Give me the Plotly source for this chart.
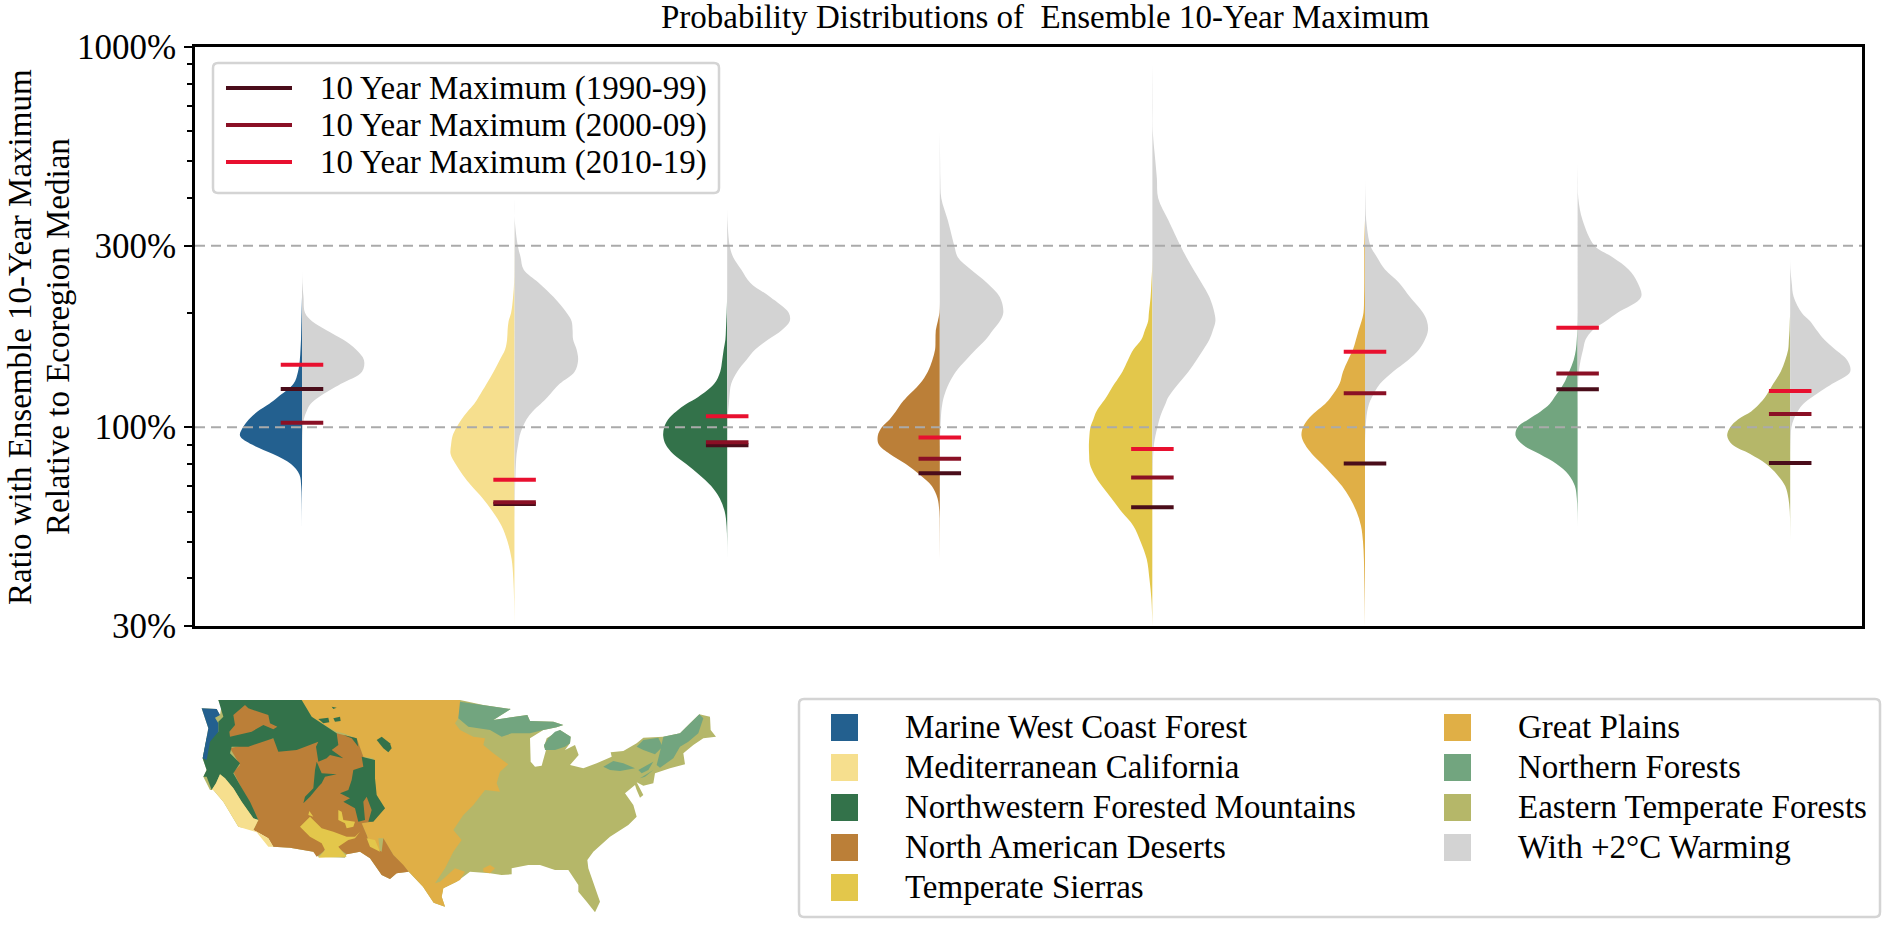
import plotly.graph_objects as go

W, H = 1902, 927
FONT = "Liberation Serif"

# plot area and map area in page pixels
PLOT_LEFT, PLOT_RIGHT, PLOT_TOP, PLOT_BOTTOM = 195, 1862, 47, 626
MAP_LEFT, MAP_RIGHT, MAP_TOP, MAP_BOTTOM = 190, 740, 695, 927

REGIONS = ["Marine West Coast Forest", "Mediterranean California", "Northwestern Forested Mountains",
           "North American Deserts", "Temperate Sierras", "Great Plains", "Northern Forests",
           "Eastern Temperate Forests"]
COLORS = ["#23608f", "#f6df8e", "#33724a", "#bb7f38", "#e3c74b", "#e0af46", "#72a57f", "#b5b769"]
WARM_COLOR = "#d3d3d3"
DECADE_COLORS = ["#4a0d1a", "#8a1025", "#e8102f"]
DECADE_LABELS = ["10 Year Maximum (1990-99)", "10 Year Maximum (2000-09)", "10 Year Maximum (2010-19)"]

TICK_VALS = [30, 100, 300, 1000]
TICK_TEXT = ["30%", "100%", "300%", "1000%"]
MINOR_TICKS = [40, 50, 60, 70, 80, 90, 200, 400, 500, 600, 700, 800, 900]
GRID_VALS = [100, 300]

RATIO_GRID = [900, 800, 700, 600, 500, 450, 400, 350, 300, 280, 260, 240, 220,
              200, 190, 180, 170, 160, 150, 140, 130, 120,
              115, 110, 105, 100, 95, 90, 85, 80,
              75, 70, 65, 60, 55, 50, 45, 40, 35, 30]

# density, one row per stretch of RATIO_GRID
MARINE_NOW = [0, 0, 0, 0, 0, 0, 0, 0, 0, 0, 0, 0, 0,
              .4, .6, .8, 1, 1.5, 2.2, 4, 8.5, 24,
              33, 44.5, 53, 59, 62, 50, 29, 11,
              2.5, .8, .3, .1, 0, 0, 0, 0, 0, 0]
MARINE_WARM = [0, 0, 0, 0, 0, 0, 0, 0, 0, 0, 0, .3, 1.5,
               3, 10, 24.5, 41, 54, 62, 60, 39, 17,
               8.5, 4.5, 1.8, .9, .4, .2, .1, 0,
               0, 0, 0, 0, 0, 0, 0, 0, 0, 0]
MEDIT_NOW = [0, 0, 0, 0, 0, 0, 0, 0, .1, .15, .2, .5, 1.5,
             3.5, 6, 7, 7.5, 9.5, 15, 21, 28, 36,
             40.5, 47, 53, 58, 62, 63.5, 64, 59,
             52, 43, 32, 22, 13, 7, 3, 1.3, .5, .2]
MEDIT_WARM = [0, 0, 0, 0, 0, 0, 0, .2, 3.2, 6, 9, 24, 39,
              52, 57, 58, 58.5, 62, 63.5, 60, 45, 33,
              26, 18, 12, 8, 5, 3.5, 2, 1.3,
              .9, .5, .3, .1, 0, 0, 0, 0, 0, 0]
NWFM_NOW = [0, 0, 0, 0, 0, 0, 0, 0, 0, 0, 0, 0, .1,
            .5, .9, 1.3, 1.8, 3.5, 5, 7, 13, 29,
            41, 51, 59, 63, 64, 61.5, 54, 41,
            28, 16, 7.5, 2.5, .6, .1, 0, 0, 0, 0]
NWFM_WARM = [0, 0, 0, 0, 0, 0, 0, .3, 2.5, 6, 14, 23, 43,
             61.5, 62.5, 54.5, 41, 28, 19, 10, 4, 2.2,
             1.6, .9, .5, .3, .1, 0, 0, 0,
             0, 0, 0, 0, 0, 0, 0, 0, 0, 0]
DESERT_NOW = [0, 0, 0, 0, 0, 0, 0, 0, 0, 0, 0, 0, 0,
              .4, 2, 4, 4.3, 4.7, 7.5, 12, 20, 33,
              39, 44, 50, 58, 62, 61, 50, 34,
              20, 8, 2.3, .5, .2, .1, 0, 0, 0, 0]
DESERT_WARM = [0, 0, 0, 0, .3, .5, 1.5, 8, 14.5, 18, 31, 47, 60,
               63.5, 60, 53, 46, 36, 26, 16, 9, 4,
               2.5, 1.5, 1, .6, .3, .1, 0, 0,
               0, 0, 0, 0, 0, 0, 0, 0, 0, 0]
SIERRA_NOW = [0, 0, 0, 0, 0, 0, 0, 0, 0, 0, .3, 1, 1.8,
              3.5, 4.3, 7.5, 11, 19, 24.5, 30, 38, 46,
              51, 56, 59, 62, 63, 63.5, 63.3, 62.5,
              58, 50.5, 41, 31, 19, 11.8, 5.7, 3, .9, .1]
SIERRA_WARM = [0, .2, .3, .4, 3, 4.5, 5.8, 16, 28, 34, 41, 49, 57,
               62, 63, 60.5, 57, 51, 44, 36, 26, 16,
               13, 9.7, 7, 5, 3, 1.5, .8, .4,
               .2, .1, 0, 0, 0, 0, 0, 0, 0, 0]
PLAINS_NOW = [0, 0, 0, 0, 0, 0, 0, 0, .7, .7, .7, .7, .9,
              1.5, 3.5, 6.4, 9, 12, 17, 22, 25.5, 34,
              40, 49, 57, 62, 63.5, 60, 53, 43,
              33, 23, 15, 8.5, 4, 2, 1.1, .7, .3, 0]
PLAINS_WARM = [0, 0, 0, 0, 0, 0, .3, 1.2, 5.5, 12, 20, 34, 45,
               58, 62, 63, 60, 54, 43, 28, 15, 7,
               4, 2.2, 1.2, .6, .2, 0, 0, 0,
               0, 0, 0, 0, 0, 0, 0, 0, 0, 0]
NORTH_NOW = [0, 0, 0, 0, 0, 0, 0, 0, 0, 0, 0, 0, 0,
             0, .1, .3, .8, 1.7, 4, 8.5, 14, 23,
             28, 37, 49, 60, 62, 55, 38, 21,
             9, 2.7, .8, .2, 0, 0, 0, 0, 0, 0]
NORTH_WARM = [0, 0, 0, 0, 0, .2, .7, 5, 17, 35, 51, 60, 63.5,
              40, 28, 15, 8, 5.5, 3, 1.2, .4, .2,
              .1, 0, 0, 0, 0, 0, 0, 0,
              0, 0, 0, 0, 0, 0, 0, 0, 0, 0]
EAST_NOW = [0, 0, 0, 0, 0, 0, 0, 0, 0, 0, 0, 0, 0,
            0, .4, .7, 1.3, 2, 5, 9.5, 17, 25,
            31, 39, 52, 60, 63, 58, 40, 24,
            13, 5, 1.8, .4, .1, 0, 0, 0, 0, 0]
EAST_WARM = [0, 0, 0, 0, 0, 0, 0, 0, 0, 0, .3, 1.5, 3.5,
             11.5, 20, 26.5, 34, 45, 57, 60, 42, 22,
             13, 7.5, 3.5, 1.2, .5, .2, 0, 0,
             0, 0, 0, 0, 0, 0, 0, 0, 0, 0]

DENSITY_NOW = [MARINE_NOW, MEDIT_NOW, NWFM_NOW, DESERT_NOW, SIERRA_NOW, PLAINS_NOW, NORTH_NOW, EAST_NOW]
DENSITY_WARM = [MARINE_WARM, MEDIT_WARM, NWFM_WARM, DESERT_WARM, SIERRA_WARM, PLAINS_WARM, NORTH_WARM, EAST_WARM]

MAX_1990S = [126, 62.8, 89.6, 75.7, 61.6, 80.3, 125.9, 80.5]
MAX_2000S = [102.8, 63.5, 91.3, 82.6, 73.7, 122.9, 138.5, 108.4]
MAX_2010S = [145.9, 72.7, 106.9, 93.9, 87.6, 158, 182.5, 124.6]

# map outlines (x east, y south, arbitrary map units)
US_OUTLINE = [(35, 40), (80, 42), (90, 60), (95, 30), (85, 15), (810, 15), (880, 30), (920, 35), (962, 42), (910, 75),
              (950, 70), (1012, 60), (1020, 78), (1090, 80), (1120, 90), (1100, 97), (1060, 105), (1020, 130),
              (1022, 200), (1035, 215), (1055, 212), (1068, 165), (1062, 155), (1070, 130), (1110, 105), (1142, 125),
              (1140, 145), (1125, 165), (1155, 150), (1166, 180), (1140, 210), (1180, 220), (1220, 205), (1265, 185),
              (1262, 172), (1300, 168), (1340, 145), (1360, 128), (1420, 125), (1470, 115), (1500, 85), (1528, 58),
              (1560, 65), (1562, 105), (1578, 125), (1540, 130), (1510, 150), (1480, 175), (1485, 208), (1440, 220),
              (1395, 235), (1390, 265), (1360, 272), (1340, 262), (1360, 300), (1350, 308), (1340, 285), (1335, 270),
              (1305, 295), (1330, 330), (1340, 365), (1315, 390), (1260, 425), (1210, 470), (1192, 495), (1195, 520),
              (1230, 620), (1215, 652), (1190, 620), (1165, 590), (1165, 570), (1135, 525), (1095, 525), (1050, 510),
              (1015, 510), (965, 520), (965, 538), (935, 540), (900, 535), (840, 530), (800, 560), (760, 580),
              (755, 605), (765, 635), (731, 623), (699, 575), (656, 530), (620, 535), (600, 552), (575, 540),
              (540, 490), (510, 470), (470, 478), (465, 488), (385, 485), (370, 470), (300, 458), (250, 455),
              (235, 430), (195, 405), (145, 395), (100, 320), (70, 285), (60, 285), (40, 245), (50, 225), (38, 190),
              (50, 130), (55, 100)]
PLAINS_AREA = [(335, 15), (810, 15), (810, 35), (805, 70), (795, 85), (810, 105), (850, 125), (885, 130), (880, 150),
               (910, 175), (955, 208), (930, 230), (920, 265), (930, 290), (885, 285), (850, 330), (820, 360),
               (790, 405), (815, 435), (790, 470), (765, 520), (735, 565), (750, 560), (795, 520), (825, 530),
               (810, 555), (760, 580), (755, 605), (765, 635), (731, 623), (699, 575), (656, 530), (640, 510),
               (610, 480), (580, 430), (565, 430), (570, 470), (540, 450), (530, 420), (515, 385), (545, 380),
               (585, 340), (560, 320), (555, 250), (550, 190), (520, 185), (510, 160), (500, 130), (460, 115),
               (440, 110), (420, 100), (365, 65)]
PLAINS_COAST = [(880, 520), (900, 510), (915, 520), (900, 535), (880, 530)]
NORTH_SUPERIOR = [(810, 20), (880, 30), (920, 35), (962, 42), (910, 75), (950, 70), (1012, 60), (1020, 78), (1090, 80),
                  (1120, 90), (1100, 97), (1060, 105), (1020, 115), (965, 115), (935, 125), (900, 105), (860, 100),
                  (835, 95), (805, 70)]
NORTH_MICHIGAN = [(1095, 110), (1110, 105), (1142, 125), (1140, 145), (1125, 155), (1095, 165), (1065, 165),
                  (1062, 150), (1075, 130)]
NORTH_NEW_ENGLAND = [(1528, 58), (1540, 70), (1525, 115), (1495, 140), (1470, 155), (1450, 190), (1410, 218),
                     (1400, 210), (1410, 170), (1420, 125), (1470, 115), (1500, 85)]
NORTH_ADIRONDACK = [(1340, 155), (1360, 135), (1405, 128), (1418, 155), (1395, 178), (1360, 165)]
NORTH_ALLEGHENY = [(1240, 215), (1270, 198), (1300, 205), (1335, 220), (1290, 228), (1260, 225)]
NORTH_CATSKILL = [(1345, 225), (1380, 205), (1390, 200), (1375, 225), (1355, 235)]
NORTH_HUDSON = [(1350, 250), (1390, 225), (1365, 245)]
DESERT_AREA = [(120, 160), (250, 130), (380, 140), (440, 115), (500, 130), (520, 185), (550, 210), (560, 320),
               (585, 340), (545, 380), (515, 385), (530, 420), (540, 450), (575, 470), (580, 430), (610, 480),
               (640, 510), (656, 530), (620, 535), (600, 552), (575, 540), (540, 490), (510, 470), (470, 478),
               (445, 460), (420, 440), (400, 470), (380, 485), (370, 470), (300, 458), (250, 455), (235, 430),
               (190, 405), (205, 375), (180, 330), (150, 270), (130, 230), (150, 210)]
NWFM_AREA = [(85, 15), (335, 15), (365, 65), (420, 100), (440, 115), (445, 150), (425, 165), (460, 190), (420, 180),
             (410, 190), (385, 200), (378, 155), (385, 140), (320, 165), (265, 170), (250, 130), (175, 155),
             (125, 155), (120, 175), (150, 205), (130, 235), (150, 270), (180, 320), (205, 375), (190, 370),
             (155, 320), (130, 280), (105, 250), (90, 238), (78, 265), (65, 285), (50, 245), (40, 245), (50, 225),
             (38, 190), (50, 130), (85, 110), (85, 80), (100, 65)]
DESERT_COLUMBIA = [(130, 60), (165, 30), (175, 40), (235, 60), (240, 85), (262, 95), (250, 103), (220, 90), (185, 110),
                   (120, 125), (118, 110), (135, 90)]
NWFM_COLORADO = [(490, 225), (520, 215), (515, 185), (555, 195), (555, 250), (560, 300), (585, 340), (550, 380),
                 (535, 380), (545, 345), (530, 305), (520, 320), (525, 375), (505, 380), (495, 340), (460, 320),
                 (480, 310), (450, 295), (475, 285), (485, 255)]
NWFM_WASATCH = [(380, 200), (395, 235), (440, 238), (405, 245), (395, 265), (385, 275), (360, 305), (340, 325),
                (345, 305), (370, 280), (375, 225)]
NWFM_BLACK_HILLS = [(560, 135), (575, 125), (600, 145), (605, 160), (595, 172), (580, 160)]
NWFM_BIGHORN = [(460, 120), (500, 130), (505, 155), (485, 130)]
NWFM_BELT = [(385, 72), (415, 68), (418, 82), (400, 85)]
NWFM_BEARPAW = [(430, 70), (450, 65), (452, 78), (435, 80)]
NWFM_MALTA = [(425, 35), (440, 38), (430, 42)]
MEDIT_AREA = [(90, 238), (105, 250), (130, 280), (155, 320), (190, 370), (205, 375), (190, 405), (235, 430),
              (250, 455), (235, 455), (200, 412), (145, 395), (100, 320), (70, 285), (65, 285), (78, 265)]
SIERRA_MOGOLLON = [(330, 395), (360, 365), (395, 400), (430, 410), (470, 425), (495, 425), (510, 410), (495, 430),
                   (475, 435), (445, 455), (470, 485), (385, 488), (405, 465), (395, 445), (360, 425)]
SIERRA_PATCH = [(445, 345), (455, 350), (460, 375), (495, 380), (490, 395), (470, 400), (465, 385), (445, 375)]
SIERRA_EAST = [(530, 430), (555, 435), (570, 470), (540, 455)]
SIERRA_SMALL = [(358, 348), (370, 365), (355, 360)]
MARINE_AREA = [(35, 40), (80, 42), (90, 60), (75, 68), (85, 85), (85, 110), (60, 140), (50, 195), (38, 190), (50, 130),
               (55, 100)]

MAP_LAYERS = [(US_OUTLINE, 7), (PLAINS_AREA, 5), (PLAINS_COAST, 5), (NORTH_SUPERIOR, 6), (NORTH_MICHIGAN, 6),
              (NORTH_NEW_ENGLAND, 6), (NORTH_ADIRONDACK, 6), (NORTH_ALLEGHENY, 6), (NORTH_CATSKILL, 6),
              (NORTH_HUDSON, 6), (DESERT_AREA, 3), (NWFM_AREA, 2), (DESERT_COLUMBIA, 3), (NWFM_COLORADO, 2),
              (NWFM_WASATCH, 2), (NWFM_BLACK_HILLS, 2), (NWFM_BIGHORN, 2), (NWFM_BELT, 2), (NWFM_BEARPAW, 2),
              (NWFM_MALTA, 2), (MEDIT_AREA, 1), (SIERRA_MOGOLLON, 4), (SIERRA_PATCH, 4), (SIERRA_EAST, 4),
              (SIERRA_SMALL, 4), (MARINE_AREA, 0)]

SLOT = 212.6  # pixels between two violins, density units are pixels too
X_RANGE = [(PLOT_LEFT - 302) / SLOT, (PLOT_RIGHT - 302) / SLOT]


def px(x):
    return x / W


def py(y):
    return 1 - y / H


def half_violin(center, density, side, color):
    nz = [i for i, d in enumerate(density) if d > 0]
    first, last = max(nz[0] - 1, 0), min(nz[-1] + 1, len(density) - 1)
    xs = [center + side * d / SLOT for d in density[first:last + 1]]
    ys = RATIO_GRID[first:last + 1]
    return go.Scatter(x=xs, y=ys, mode="lines", fill="toself", fillcolor=color, hoverinfo="skip",
                      line=dict(width=0, shape="spline", smoothing=1.0, color=color), showlegend=False)


def rounded_box(x0, y0, x1, y1, r=5):
    a, b, c, d = px(x0), px(x1), py(y0), py(y1)
    rx, ry = r / W, r / H
    return (f"M {a + rx} {c} L {b - rx} {c} Q {b} {c} {b} {c - ry} L {b} {d + ry} Q {b} {d} {b - rx} {d} "
            f"L {a + rx} {d} Q {a} {d} {a} {d + ry} L {a} {c - ry} Q {a} {c} {a + rx} {c} Z")


def label(x, y, text, anchor="left", angle=0, size=33):
    return dict(x=px(x), y=py(y), xref="paper", yref="paper", text=text, showarrow=False, xanchor=anchor,
                yanchor="middle", textangle=angle, font=dict(family=FONT, size=size, color="black"))


fig = go.Figure()

# violins
for i in range(len(REGIONS)):
    fig.add_trace(half_violin(i, DENSITY_NOW[i], -1, COLORS[i]))
    fig.add_trace(half_violin(i, DENSITY_WARM[i], 1, WARM_COLOR))

# dashed reference lines
for g in GRID_VALS:
    fig.add_trace(go.Scatter(x=X_RANGE, y=[g, g], mode="lines", hoverinfo="skip", showlegend=False,
                             line=dict(color="#aaaaaa", width=2, dash="10px,6px")))

# decade maxima
for vals, col, name in zip([MAX_1990S, MAX_2000S, MAX_2010S], DECADE_COLORS, DECADE_LABELS):
    for i, v in enumerate(vals):
        fig.add_trace(go.Scatter(x=[i - 0.1, i + 0.1], y=[v, v], mode="lines", name=name, showlegend=False,
                                 line=dict(color=col, width=4)))

# map
for outline, c in MAP_LAYERS:
    xs = [p[0] for p in outline] + [outline[0][0]]
    ys = [p[1] for p in outline] + [outline[0][1]]
    fig.add_trace(go.Scatter(x=xs, y=ys, xaxis="x2", yaxis="y2", mode="lines", fill="toself", fillcolor=COLORS[c],
                             line=dict(width=0, color=COLORS[c]), hoverinfo="skip", showlegend=False))

shapes = [
    dict(type="path", path=rounded_box(213, 63, 719, 193), xref="paper", yref="paper", fillcolor="white",
         line=dict(color="#d4d4d4", width=2.5)),
    dict(type="path", path=rounded_box(799, 699, 1880, 917), xref="paper", yref="paper", fillcolor="white",
         line=dict(color="#d4d4d4", width=2.5)),
]
annotations = [
    label(1045, 17, "Probability Distributions of\u00a0 Ensemble 10-Year Maximum", "center"),
    label(20, 337, "Ratio with Ensemble 10-Year Maximum", "center", -90),
    label(58, 337, "Relative to Ecoregion Median", "center", -90),
]

# top legend
for k, (col, name) in enumerate(zip(DECADE_COLORS, DECADE_LABELS)):
    yy = 88 + 37 * k
    shapes.append(dict(type="line", xref="paper", yref="paper", x0=px(226), x1=px(292), y0=py(yy), y1=py(yy),
                       line=dict(color=col, width=4)))
    annotations.append(label(318, yy, name))

# bottom legend
legend_names = REGIONS + ["With +2°C Warming"]
legend_colors = COLORS + [WARM_COLOR]
for k, (col, name) in enumerate(zip(legend_colors, legend_names)):
    column, row = (0, k) if k < 5 else (1, k - 5)
    x0 = 831 + 613 * column
    y0 = 714 + 40 * row
    shapes.append(dict(type="rect", xref="paper", yref="paper", x0=px(x0), x1=px(x0 + 27), y0=py(y0), y1=py(y0 + 27),
                       fillcolor=col, line=dict(width=0)))
    annotations.append(label(x0 + 72, y0 + 13, name))

fig.update_layout(
    width=W, height=H, margin=dict(l=0, r=0, t=0, b=0), plot_bgcolor="white", paper_bgcolor="white",
    showlegend=False, shapes=shapes, annotations=annotations,
    xaxis=dict(domain=[px(PLOT_LEFT), px(PLOT_RIGHT)], range=X_RANGE, showgrid=False, zeroline=False, showticklabels=False,
               ticks="", showline=True, mirror=True, linecolor="black", linewidth=2.5, automargin=False),
    yaxis=dict(domain=[py(PLOT_BOTTOM), py(PLOT_TOP)], type="log", range=[1.4771, 3], showgrid=False, zeroline=False,
               tickmode="array", tickvals=TICK_VALS, ticktext=TICK_TEXT, ticks="outside", ticklen=8, tickwidth=2,
               tickcolor="black", tickfont=dict(family=FONT, size=35, color="black"), ticklabelstandoff=1,
               minor=dict(tickmode="array", tickvals=MINOR_TICKS, ticks="outside", ticklen=5, tickwidth=1.5,
                          tickcolor="black"),
               showline=True, mirror=True, linecolor="black", linewidth=2.5, automargin=False),
    xaxis2=dict(domain=[px(MAP_LEFT), px(MAP_RIGHT)], range=[0, 1650], visible=False, automargin=False),
    yaxis2=dict(domain=[py(MAP_BOTTOM), py(MAP_TOP)], range=[696, 0], visible=False, automargin=False),
)

fig.write_html("out.html", config=dict(displayModeBar=False), post_script="document.body.style.margin='0';")
